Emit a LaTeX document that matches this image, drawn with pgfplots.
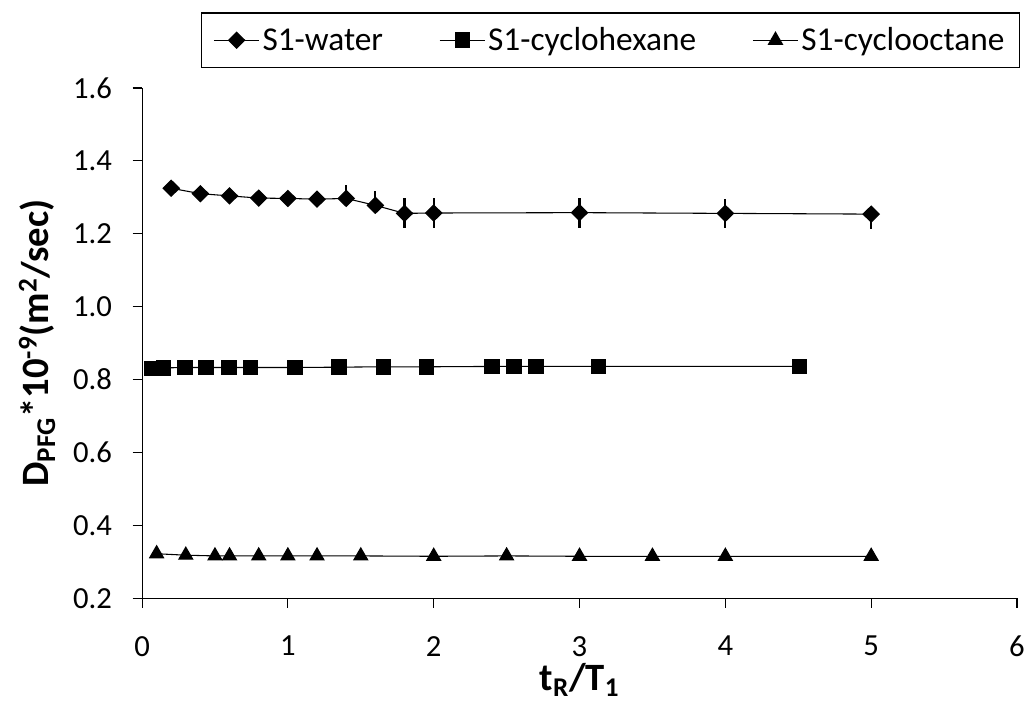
\documentclass[border=0pt]{standalone}
\usepackage{pgfplots}
\pgfplotsset{compat=1.18}
\usepackage{fontspec}
\setmainfont{Carlito}
\begin{document}
\begin{tikzpicture}
\begin{axis}[
  name=ax,
  scale only axis,
  width=656pt, height=382.5pt,
  xmin=0, xmax=6, ymin=0.2, ymax=1.6,
  xtick={0,1,2,3,4,5,6},
  ytick={0.2,0.4,0.6,0.8,1.0,1.2,1.4,1.6},
  axis x line*=bottom, axis y line*=left,
  axis line style={-, line width=0.8pt},
  tick style={line width=0.8pt, black},
  tick align=outside,
  major tick length=7pt,
  /pgf/number format/assume math mode=true,
  yticklabel style={/pgf/number format/fixed, /pgf/number format/fixed zerofill, /pgf/number format/precision=1, xshift=-12pt},
  xticklabel style={/pgf/number format/fixed, yshift=-18pt},
  tick label style={font=\fontsize{23}{26}\selectfont},
  xlabel={\textbf{t\textsubscript{R}/T\textsubscript{1}}},
  ylabel={\textbf{D\textsubscript{PFG}*10\textsuperscript{-9}(m\textsuperscript{2}/sec)}},
  label style={font=\fontsize{29}{32}\selectfont},
  xlabel style={at={(axis description cs:0.5,0)}, anchor=base, yshift=-69pt},
  ylabel style={at={(axis description cs:-0.12,0.5)}, anchor=center},
  legend columns=3,
  legend style={at={(1.003,1)}, anchor=south east, yshift=15pt,
     font=\fontsize{25}{28}\selectfont, draw=black, line width=0.8pt,
     /tikz/every even column/.append style={column sep=40pt},
     inner xsep=9pt, inner ysep=9pt},
  legend image code/.code={%
     \draw[mark repeat=2, mark phase=2, #1] plot coordinates {(0pt,0pt) (17pt,0pt) (34pt,0pt)};},
]
\addplot[black, line width=0.8pt, mark=diamond*, mark size=6pt, mark options={xscale=1.35, solid},
  error bars/.cd, y dir=both, y explicit, error mark=none,
  error bar style={line width=1.6pt, black}]
coordinates {
(0.2,1.325) +- (0,0)
(0.4,1.310) +- (0,0)
(0.6,1.304) +- (0,0)
(0.8,1.298) +- (0,0)
(1.0,1.297) +- (0,0)
(1.2,1.295) +- (0,0)
(1.4,1.297) += (0,0.038) -= (0,0.012)
(1.6,1.278) += (0,0.040) -= (0,0.017)
(1.8,1.256) +- (0,0.041)
(2.0,1.257) +- (0,0.041)
(3.0,1.258) +- (0,0.041)
(4.0,1.256) +- (0,0.040)
(5.0,1.254) += (0,0.012) -= (0,0.042)
};
\addlegendentry{S1-water}
\addplot[black, line width=0.8pt, mark=square*, mark size=5.4pt, mark options={solid}]
coordinates {
(0.066,0.830) (0.146,0.832) (0.295,0.833) (0.44,0.833) (0.597,0.833)
(0.745,0.833) (1.05,0.833) (1.35,0.834) (1.655,0.835) (1.95,0.835)
(2.40,0.836) (2.55,0.836) (2.70,0.836) (3.13,0.836) (4.51,0.836)
};
\addlegendentry{S1-cyclohexane}
\addplot[black, line width=0.8pt, mark=triangle*, mark size=6pt, mark options={solid}]
coordinates {
(0.1,0.322) (0.3,0.318) (0.5,0.316) (0.6,0.316) (0.8,0.316) (1.0,0.316)
(1.2,0.316) (1.5,0.316) (2.0,0.315) (2.5,0.316) (3.0,0.315) (3.5,0.315)
(4.0,0.315) (5.0,0.315)
};
\addlegendentry{S1-cyclooctane}
\end{axis}
\pgfresetboundingbox
\path (ax.south west) +(-106.5pt,-78pt) (ax.north east) +(5.25pt,66pt);
\end{tikzpicture}
\end{document}
